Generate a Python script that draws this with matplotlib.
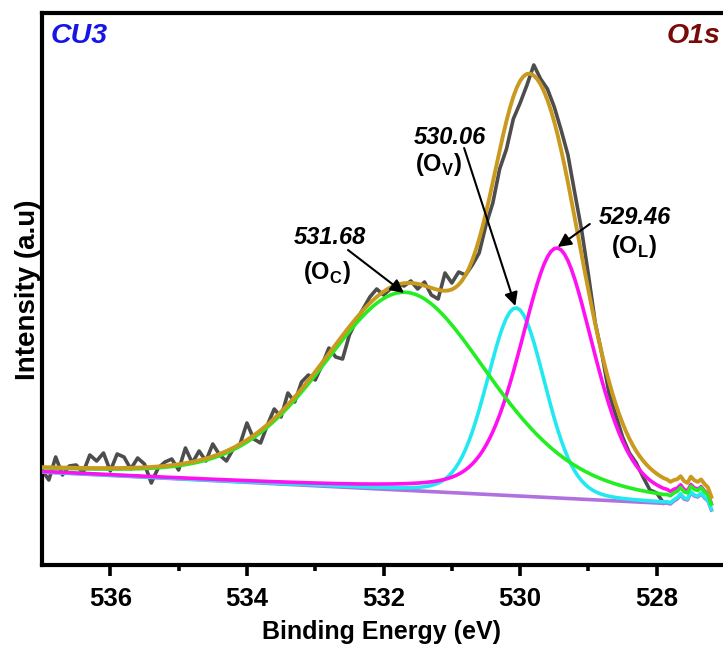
import numpy as np
import matplotlib
matplotlib.use("Agg")
import matplotlib.pyplot as plt

plt.rcParams['font.family'] = ['Liberation Sans', 'DejaVu Sans']
plt.rcParams['font.weight'] = 'bold'
plt.rcParams['mathtext.fontset'] = 'custom'
plt.rcParams['mathtext.rm'] = 'Liberation Sans:bold'
plt.rcParams['mathtext.bf'] = 'Liberation Sans:bold'

# raw O1s spectrum, 537.0 -> 527.9 eV, 0.1 eV step (a.u.)
raw_counts = [95, 85, 108, 90, 99, 100, 92, 110, 104, 112,
              94, 111, 108, 96, 107, 101, 82, 97, 103, 106,
              95, 117, 102, 114, 104, 121, 110, 104, 116, 121,
              142, 126, 122, 140, 156, 148, 172, 163, 183, 190,
              185, 200, 217, 208, 206, 230, 244, 256, 268, 276,
              270, 276, 282, 279, 284, 276, 283, 270, 266, 292,
              282, 293, 290, 300, 312, 340, 362, 396, 416, 446,
              462, 480, 500, 486, 476, 458, 435, 410, 372, 335,
              290, 242, 210, 172, 150, 128, 112, 102, 88, 75,
              72, 62]
be_raw = np.round(537.0 - 0.1 * np.arange(len(raw_counts)), 2)

# fitted components (pseudo-Voigt)
peak_labels = ['531.68', '530.06', '529.46']
peak_tags = [r'(O$_{\mathbf{C}}$)', r'(O$_{\mathbf{V}}$)', r'(O$_{\mathbf{L}}$)']
peak_centers = [531.68, 530.06, 529.46]
peak_heights = [198, 188, 250]
peak_fwhm = [2.9, 1.0, 1.27]
peak_lfrac = [0.3, 0.15, 0.35]
peak_colors = ['#22EE22', '#22E8F2', '#FF10F0']

# background: linear part end points, then the noisy tail past 527.9 eV
bg_x = [537.0, 527.9]
bg_y = [93.0, 61.7]
bg_tail = [62, 61, 64, 66, 70, 66, 65, 72, 69, 68, 71, 67, 64, 55]

be_fit = np.round(537.0 - 0.05 * np.arange(183 + len(bg_tail)), 2)


def pvoigt(x, c, h, w, m):
    u = ((x - c) / w) ** 2
    return h * ((1 - m) * np.exp(-4 * np.log(2) * u) + m / (1 + 4 * u))


bg = bg_y[0] + (bg_y[1] - bg_y[0]) * (bg_x[0] - be_fit) / (bg_x[0] - bg_x[1])
bg[183:] = bg_tail

comps = [pvoigt(be_fit, c, h, w, m) for c, h, w, m in
         zip(peak_centers, peak_heights, peak_fwhm, peak_lfrac)]
envelope = bg + np.sum(comps, axis=0)

fig = plt.figure(figsize=(7.23, 6.48), dpi=100)
ax = fig.add_axes([42 / 723, 83 / 648, 681 / 723, 552 / 648])

ax.plot(be_raw, raw_counts, color='#4D4D4D', lw=2.6, zorder=2)
ax.plot(be_fit, bg, color='#B070E0', lw=2.6, zorder=3)
ax.plot(be_fit, bg + comps[1], color=peak_colors[1], lw=2.6, zorder=4)
ax.plot(be_fit, bg + comps[2], color=peak_colors[2], lw=2.6, zorder=5)
ax.plot(be_fit, bg + comps[0], color=peak_colors[0], lw=2.6, zorder=6)
ax.plot(be_fit, envelope, color='#C99A1E', lw=2.8, zorder=7)

# annotations
lab_pos = [(532.78, 327), (531.03, 428), (528.32, 348)]
tag_pos = [(532.83, 293), (531.20, 400), (528.33, 319)]
arrow_tail = [(532.52, 315), (530.82, 417), (528.98, 341)]
arrow_tip = [(531.70, 272), (530.07, 259), (529.45, 318)]
for i in range(3):
    ax.text(*lab_pos[i], peak_labels[i], fontsize=17, fontstyle='italic',
            fontweight='bold', ha='center', va='center', zorder=8)
    ax.text(*tag_pos[i], peak_tags[i], fontsize=17, fontweight='bold',
            ha='center', va='center', zorder=8)
    ax.annotate('', xy=arrow_tip[i], xytext=arrow_tail[i],
                arrowprops=dict(arrowstyle='-|>', color='k', lw=1.5,
                                mutation_scale=20, shrinkA=0, shrinkB=0),
                zorder=9)

ax.text(0.012, 0.958, 'CU3', transform=ax.transAxes, color='#1515E6',
        fontsize=20.5, fontstyle='italic', fontweight='bold', ha='left', va='center')
ax.text(0.996, 0.958, 'O1s', transform=ax.transAxes, color='#7A0A0A',
        fontsize=20.5, fontstyle='italic', fontweight='bold', ha='right', va='center')

ax.set_xlim(537.0, 527.03)
ax.set_ylim(0, 552)
ax.set_xticks([536, 534, 532, 530, 528])
ax.set_xticks([535, 533, 531, 529], minor=True)
ax.set_yticks([])
ax.tick_params(axis='x', which='major', direction='out', length=8, width=2.6,
               labelsize=18.5, pad=8)
ax.tick_params(axis='x', which='minor', direction='out', length=4, width=2.6)
for lab in ax.get_xticklabels():
    lab.set_fontweight('bold')

for s in ['left', 'bottom', 'top']:
    ax.spines[s].set_linewidth(3)
ax.spines['right'].set_visible(False)

ax.set_xlabel('Binding Energy (eV)', fontsize=18, fontweight='bold')
ax.set_ylabel('Intensity (a.u)', fontsize=20, fontweight='bold')
ax.xaxis.set_label_coords(0.499, -0.099)
ax.yaxis.set_label_coords(-0.002, 0.498)

fig.savefig('out.png', dpi=100)
